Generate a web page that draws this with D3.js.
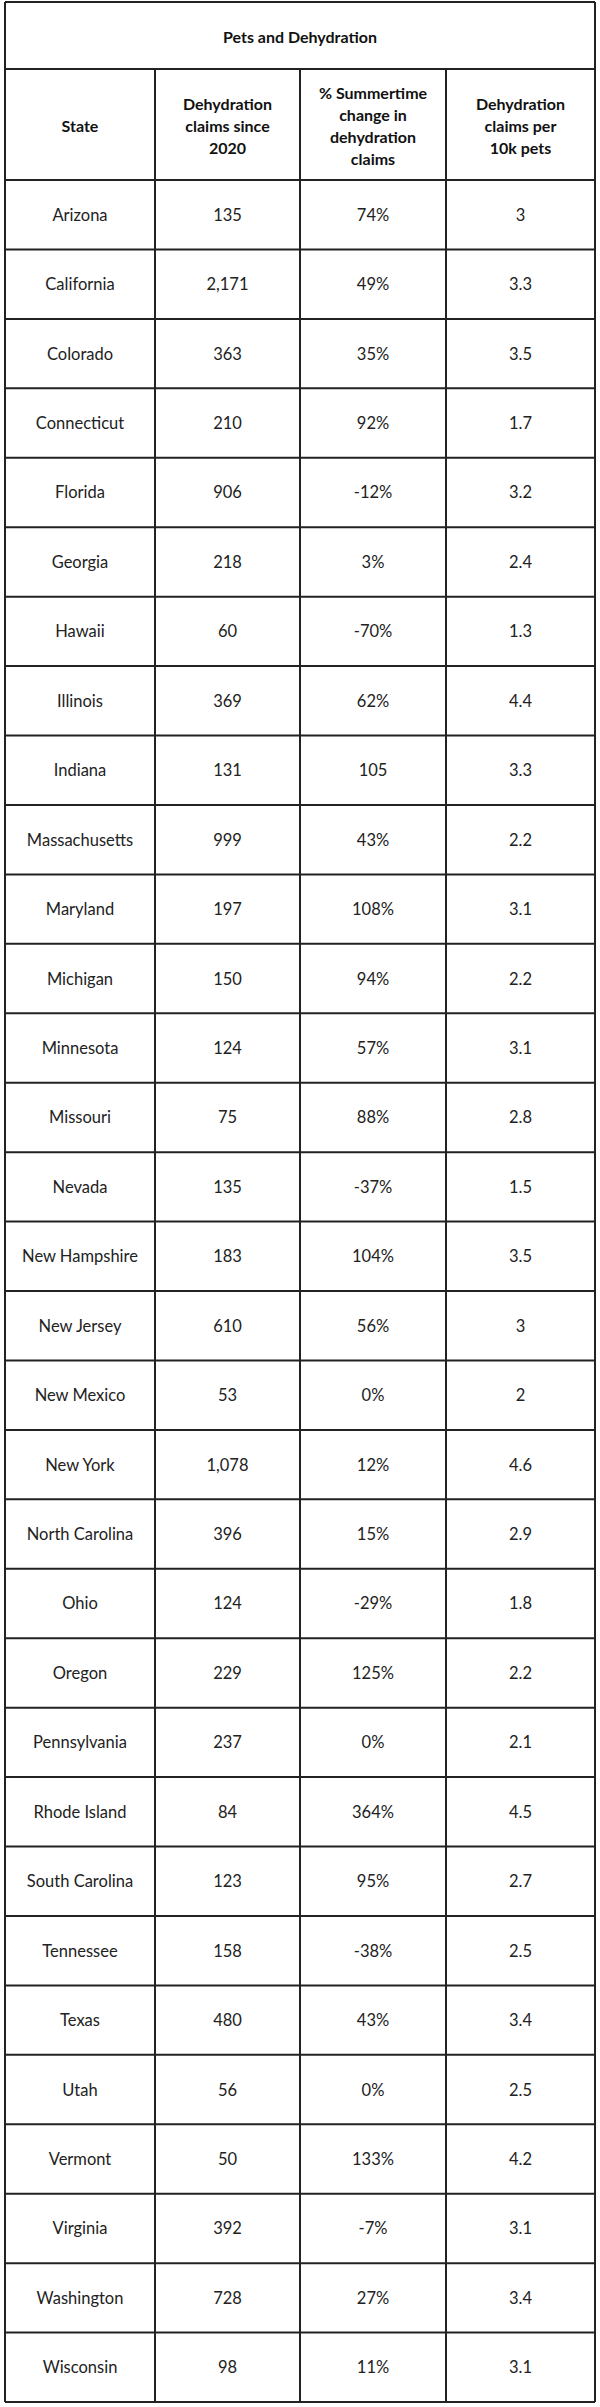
<!DOCTYPE html><html><head><meta charset="utf-8">
<script src="https://cdn.jsdelivr.net/npm/d3@7"></script>
<style>body{margin:0;background:#fff}</style></head><body><svg id="c" width="600" height="2407"></svg>
<script>
const title="Pets and Dehydration";
const headers=[["State"],["Dehydration","claims since","2020"],["% Summertime","change in","dehydration","claims"],["Dehydration","claims per","10k pets"]];
const states=["Arizona","California","Colorado","Connecticut","Florida","Georgia","Hawaii","Illinois","Indiana","Massachusetts","Maryland","Michigan","Minnesota","Missouri","Nevada","New Hampshire","New Jersey","New Mexico","New York","North Carolina","Ohio","Oregon","Pennsylvania","Rhode Island","South Carolina","Tennessee","Texas","Utah","Vermont","Virginia","Washington","Wisconsin"];
const claims=["135","2,171","363","210","906","218","60","369","131","999","197","150","124","75","135","183","610","53","1,078","396","124","229","237","84","123","158","480","56","50","392","728","98"];
const change=["74%","49%","35%","92%","-12%","3%","-70%","62%","105","43%","108%","94%","57%","88%","-37%","104%","56%","0%","12%","15%","-29%","125%","0%","364%","95%","-38%","43%","0%","133%","-7%","27%","11%"];
const per10k=["3","3.3","3.5","1.7","3.2","2.4","1.3","4.4","3.3","2.2","3.1","2.2","3.1","2.8","1.5","3.5","3","2","4.6","2.9","1.8","2.2","2.1","4.5","2.7","2.5","3.4","2.5","4.2","3.1","3.4","3.1"];
const svg=d3.select("#c");
const font="Lato, 'Open Sans', sans-serif";
const xEdges=[5,155,300,446,595];
const y=d3.scaleLinear().domain([0,32]).range([180,2402]);
const cols=[states,claims,change,per10k];
const g=svg.append("g");
g.append("text").attr("x",300).attr("y",36).attr("text-anchor","middle").attr("dominant-baseline","central")
 .attr("font-family",font).attr("font-weight","bold").attr("font-size",16).attr("fill","#111").text(title);
headers.forEach((h,i)=>{
 const cx=(xEdges[i]+xEdges[i+1])/2, cy=125, lh=22;
 h.forEach((l,j)=>g.append("text").attr("x",cx).attr("y",cy+(j-(h.length-1)/2)*lh).attr("text-anchor","middle").attr("dominant-baseline","central")
  .attr("font-family",font).attr("font-weight","bold").attr("font-size",16).attr("fill","#111").text(l));
});
cols.forEach((col,i)=>{
 const cx=(xEdges[i]+xEdges[i+1])/2;
 g.selectAll(null).data(col).join("text").attr("x",cx).attr("y",(d,k)=>(y(k)+y(k+1))/2)
  .attr("text-anchor","middle").attr("dominant-baseline","central").attr("font-family",font).attr("font-size",16.5).attr("fill","#222").text(d=>d);
});
const L=g.append("g").attr("stroke","#222").attr("stroke-width",2);
d3.range(33).forEach(k=>L.append("line").attr("x1",5).attr("x2",595).attr("y1",y(k)).attr("y2",y(k)));
[2,69].forEach(yy=>L.append("line").attr("x1",5).attr("x2",595).attr("y1",yy).attr("y2",yy));
[5,595].forEach(xx=>L.append("line").attr("x1",xx).attr("x2",xx).attr("y1",2).attr("y2",2402));
xEdges.slice(1,4).forEach(xx=>L.append("line").attr("x1",xx).attr("x2",xx).attr("y1",69).attr("y2",2402));
</script></body></html>
